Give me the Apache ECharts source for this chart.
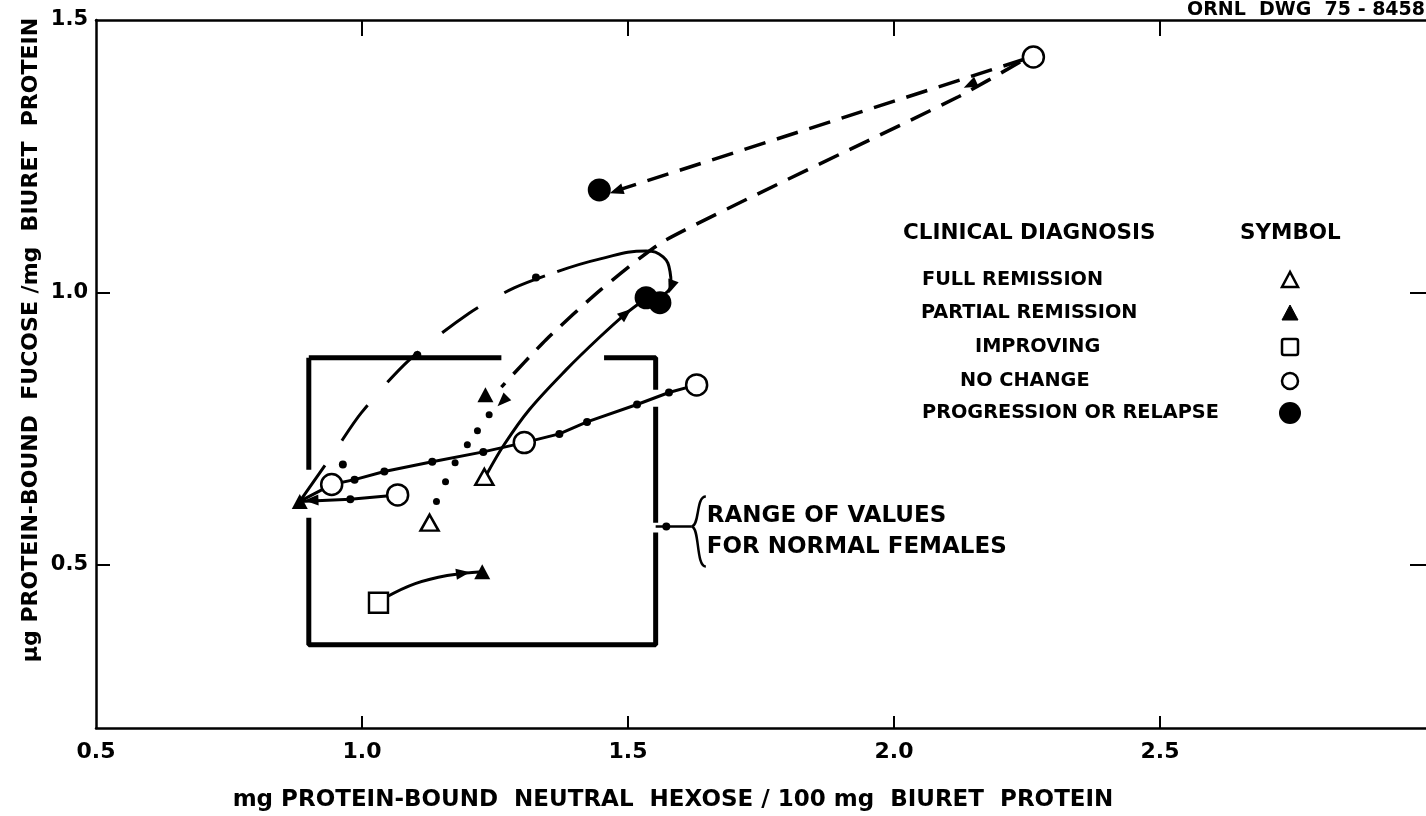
<!DOCTYPE html>
<html>
<head>
<meta charset="utf-8">
<script src="https://cdn.jsdelivr.net/npm/echarts@6/dist/echarts.min.js"></script>
<style>
  html, body { margin: 0; padding: 0; background: #ffffff; }
  #chart { width: 1426px; height: 816px; }
</style>
</head>
<body>
<div id="chart"></div>
<script>
// ---- axis ticks ----
const xTickLabels = [0.5, 1.0, 1.5, 2.0, 2.5];
const xInnerTicks = [1.0, 1.5, 2.0, 2.5];
const yTickLabels = [0.5, 1.0, 1.5];
const yInnerTicks = [0.5, 1.0];

// ---- patient measurements by clinical diagnosis ----
const fullRemission    = [[1.127, 0.577], [1.230, 0.661]];
const partialRemission = [[0.883, 0.616], [1.226, 0.487], [1.232, 0.812]];
const improving        = [[1.031, 0.430]];
const noChange         = [[2.262, 1.432], [1.629, 0.830], [1.305, 0.724], [0.943, 0.647], [1.067, 0.628]];
const progression      = [[1.446, 1.188], [1.534, 0.990], [1.560, 0.981]];

// ---- course of individual patients ----
const dashedUpper = [[2.245, 1.428], [1.470, 1.184]];
const dashedLower = [[2.237, 1.423], [2.121, 1.359], [1.571, 1.096], [1.449, 1.005], [1.346, 0.913], [1.262, 0.826]];
const dottedCourse = [[1.239, 0.775], [1.217, 0.746], [1.198, 0.720], [1.175, 0.687], [1.157, 0.652], [1.140, 0.616]];
const dashDotCourse = [[0.883, 0.616], [0.948, 0.707], [0.999, 0.779], [1.089, 0.876], [1.202, 0.962], [1.286, 1.008], [1.367, 1.038]];
const dashDotDots = [[0.964, 0.684], [1.104, 0.885], [1.327, 1.027]];
const loopCourse = [[1.367, 1.038], [1.446, 1.061], [1.534, 1.076], [1.566, 1.065], [1.579, 1.038], [1.581, 1.014], [1.562, 0.992]];
const riseCourse = [[1.234, 0.665], [1.267, 0.720], [1.314, 0.784], [1.384, 0.858], [1.446, 0.917], [1.496, 0.961], [1.530, 0.986]];
const longCourse = [[1.629, 0.830], [1.577, 0.816], [1.517, 0.794], [1.423, 0.762], [1.371, 0.740], [1.305, 0.724],
                    [1.228, 0.707], [1.132, 0.689], [1.042, 0.671], [0.986, 0.656], [0.943, 0.647], [0.883, 0.616]];
const longCourseDots = [[1.577, 0.816], [1.517, 0.794], [1.423, 0.762], [1.371, 0.740], [1.228, 0.707], [1.132, 0.689], [1.042, 0.671], [0.986, 0.656]];
const shortCourse = [[1.067, 0.628], [0.978, 0.620], [0.883, 0.616]];
const shortCourseDots = [[0.978, 0.620]];
const improvingCourse = [[1.045, 0.440], [1.100, 0.465], [1.160, 0.480], [1.226, 0.487]];
// arrowheads: x, y, direction in degrees
const arrowHeads = [[2.143, 1.381, 205], [1.478, 1.186, 198], [1.581, 1.010, 250], [1.496, 0.961, 40],
                    [1.190, 0.484, 8], [0.905, 0.618, 182], [1.264, 0.800, 225]];

// ---- normal female range (box with breaks) ----
const normalRange = [
  [0.900, 0.880], [1.262, 0.880], null,
  [1.455, 0.880], [1.552, 0.880], [1.552, 0.821], null,
  [1.552, 0.790], [1.552, 0.577], null,
  [1.552, 0.559], [1.552, 0.353], [0.900, 0.353], [0.900, 0.586], null,
  [0.900, 0.674], [0.900, 0.880]
];
const rangeLeader = [[1.552, 0.570], [1.620, 0.570]];
const rangeLeaderDot = [[1.572, 0.570]];
const rangeLabelAnchor = [1.620, 0.570];

const legendTitle = ['CLINICAL DIAGNOSIS', 'SYMBOL'];
const legendRows = ['FULL REMISSION', 'PARTIAL REMISSION', 'IMPROVING', 'NO CHANGE', 'PROGRESSION OR RELAPSE'];

const FONT = 'DejaVu Sans';
const INK = '#000000';

const chart = echarts.init(document.getElementById('chart'), null, { renderer: 'canvas' });

function path(data, style, extra) {
  return Object.assign({
    type: 'line', data: data, showSymbol: false, symbol: 'none', z: 2,
    lineStyle: Object.assign({ color: INK, width: 2.5, opacity: 1 }, style),
    emphasis: { disabled: true }, silent: true, animation: false
  }, extra || {});
}
function marks(data, symbol, size, filled, extra) {
  return Object.assign({
    type: 'scatter', data: data, symbol: symbol, symbolSize: size, z: 4,
    itemStyle: filled ? { color: INK, borderWidth: 0, opacity: 1 }
                      : { color: '#ffffff', borderColor: INK, borderWidth: 2.5, opacity: 1 },
    emphasis: { disabled: true }, silent: true, animation: false
  }, extra || {});
}

const axisLabelStyle = { color: INK, fontFamily: FONT, fontWeight: 'bold', fontSize: 22 };

const option = {
  backgroundColor: '#ffffff',
  animation: false,
  grid: { left: 96, top: 20, right: -3, bottom: 88 },
  xAxis: [
    {
      type: 'value', min: 0.5, max: 3.0, position: 'bottom',
      axisLine: { lineStyle: { color: INK, width: 2.5 } },
      axisTick: { inside: true, length: 12, customValues: xInnerTicks, lineStyle: { color: INK, width: 2 } },
      axisLabel: Object.assign({ customValues: xTickLabels, formatter: v => v.toFixed(1), margin: 13 }, axisLabelStyle),
      splitLine: { show: false }
    },
    {
      type: 'value', min: 0.5, max: 3.0, position: 'top',
      axisLine: { lineStyle: { color: INK, width: 2.5 } },
      axisTick: { inside: true, length: 16, customValues: xInnerTicks, lineStyle: { color: INK, width: 2 } },
      axisLabel: { show: false },
      splitLine: { show: false }
    }
  ],
  yAxis: [
    {
      type: 'value', min: 0.2, max: 1.5, position: 'left',
      axisLine: { lineStyle: { color: INK, width: 2.5 } },
      axisTick: { inside: true, length: 14, customValues: yInnerTicks, lineStyle: { color: INK, width: 2 } },
      axisLabel: Object.assign({ customValues: yTickLabels, formatter: v => v.toFixed(1), margin: 8 }, axisLabelStyle, { fontSize: 21 }),
      splitLine: { show: false }
    },
    {
      type: 'value', min: 0.2, max: 1.5, position: 'right',
      axisLine: { show: false },
      axisTick: { inside: true, length: 16, customValues: yInnerTicks, lineStyle: { color: INK, width: 2 } },
      axisLabel: { show: false },
      splitLine: { show: false }
    }
  ],
  series: [
    path(normalRange, { width: 5 }, { connectNulls: false }),
    path(rangeLeader, { width: 2.5 }),
    marks(rangeLeaderDot, 'circle', 8, true),
    path(dashedUpper, { width: 3.5, type: [22, 12] }),
    path(dashedLower, { width: 3.5, type: [22, 12] }, { smooth: 0.2 }),
    marks(dottedCourse, 'circle', 7, true),
    path(dashDotCourse, { width: 3, type: [44, 30] }, { smooth: 0.3 }),
    marks(dashDotDots, 'circle', 8, true),
    path(loopCourse, { width: 3 }, { smooth: 0.45 }),
    path(riseCourse, { width: 3 }, { smooth: 0.35 }),
    path(longCourse, { width: 3 }),
    marks(longCourseDots, 'circle', 8, true),
    path(shortCourse, { width: 3 }),
    marks(shortCourseDots, 'circle', 8, true),
    path(improvingCourse, { width: 3 }, { smooth: 0.4 }),
    {
      type: 'scatter', z: 4, silent: true, animation: false,
      data: arrowHeads.map(a => ({ value: [a[0], a[1]], symbolRotate: a[2] - 90 })),
      symbol: 'triangle', symbolSize: [11, 14],
      itemStyle: { color: INK, opacity: 1 }
    },
    marks(fullRemission, 'triangle', [18, 16], false),
    marks(partialRemission, 'triangle', [16, 15], true),
    marks(improving, 'rect', [19, 20], false),
    marks(noChange, 'circle', 21, false),
    marks(progression, 'circle', 23, true)
  ]
};

chart.setOption(option);

// ---- text annotations, legend and the range brace ----
const anchor = chart.convertToPixel({ gridIndex: 0 }, rangeLabelAnchor);
const ax = anchor[0], ay = anchor[1];

const textStyle = (txt, size, extra) => Object.assign({ text: txt, fill: INK, font: `bold ${size}px "${FONT}"` }, extra || {});

const graphics = [
  // axis titles
  { type: 'text', x: 673, y: 800, silent: true,
    style: textStyle('mg PROTEIN-BOUND  NEUTRAL  HEXOSE / 100 mg  BIURET  PROTEIN', 23, { align: 'center', verticalAlign: 'middle' }) },
  { type: 'text', x: 31, y: 340, rotation: Math.PI / 2, silent: true,
    style: textStyle('\u03bcg PROTEIN-BOUND  FUCOSE /mg  BIURET  PROTEIN', 22, { align: 'center', verticalAlign: 'middle' }) },
  // drawing number
  { type: 'text', x: 1187, y: 10, silent: true,
    style: textStyle('ORNL  DWG  75 - 8458', 19, { align: 'left', verticalAlign: 'middle' }) },
  // brace and its label
  { type: 'bezierCurve', silent: true, shape: { x1: ax + 14, y1: ay - 30, cpx1: ax + 4, cpy1: ay - 30, cpx2: ax + 8, cpy2: ay - 2, x2: ax, y2: ay },
    style: { stroke: INK, lineWidth: 2.5, fill: null } },
  { type: 'bezierCurve', silent: true, shape: { x1: ax, y1: ay, cpx1: ax + 8, cpy1: ay + 2, cpx2: ax + 4, cpy2: ay + 40, x2: ax + 14, y2: ay + 40 },
    style: { stroke: INK, lineWidth: 2.5, fill: null } },
  { type: 'text', x: ax + 15, y: ay - 10, silent: true,
    style: textStyle('RANGE OF VALUES', 23, { align: 'left', verticalAlign: 'middle' }) },
  { type: 'text', x: ax + 15, y: ay + 21, silent: true,
    style: textStyle('FOR NORMAL FEMALES', 23, { align: 'left', verticalAlign: 'middle' }) },
  // legend header
  { type: 'text', x: 903, y: 233, silent: true, style: textStyle(legendTitle[0], 21.5, { align: 'left', verticalAlign: 'middle' }) },
  { type: 'text', x: 1240, y: 233, silent: true, style: textStyle(legendTitle[1], 21.5, { align: 'left', verticalAlign: 'middle' }) }
];

const rowX = [922, 921, 975, 960, 922];
const rowY = [280, 313, 347, 381, 413];
legendRows.forEach((name, i) => {
  graphics.push({ type: 'text', x: rowX[i], y: rowY[i], silent: true,
    style: textStyle(name, 19.3, { align: 'left', verticalAlign: 'middle' }) });
});
const sx = 1290;
graphics.push(
  { type: 'polygon', silent: true, shape: { points: [[sx, rowY[0] - 8], [sx - 8, rowY[0] + 7], [sx + 8, rowY[0] + 7]] },
    style: { fill: '#fff', stroke: INK, lineWidth: 2.5 } },
  { type: 'polygon', silent: true, shape: { points: [[sx, rowY[1] - 8], [sx - 8, rowY[1] + 7], [sx + 8, rowY[1] + 7]] },
    style: { fill: INK, stroke: INK, lineWidth: 1 } },
  { type: 'rect', silent: true, shape: { x: sx - 8, y: rowY[2] - 8, width: 16, height: 16, r: 2 },
    style: { fill: '#fff', stroke: INK, lineWidth: 2.5 } },
  { type: 'circle', silent: true, shape: { cx: sx, cy: rowY[3], r: 8 },
    style: { fill: '#fff', stroke: INK, lineWidth: 2.5 } },
  { type: 'circle', silent: true, shape: { cx: sx, cy: rowY[4], r: 11 },
    style: { fill: INK } }
);

chart.setOption({ graphic: graphics });
</script>
</body>
</html>
